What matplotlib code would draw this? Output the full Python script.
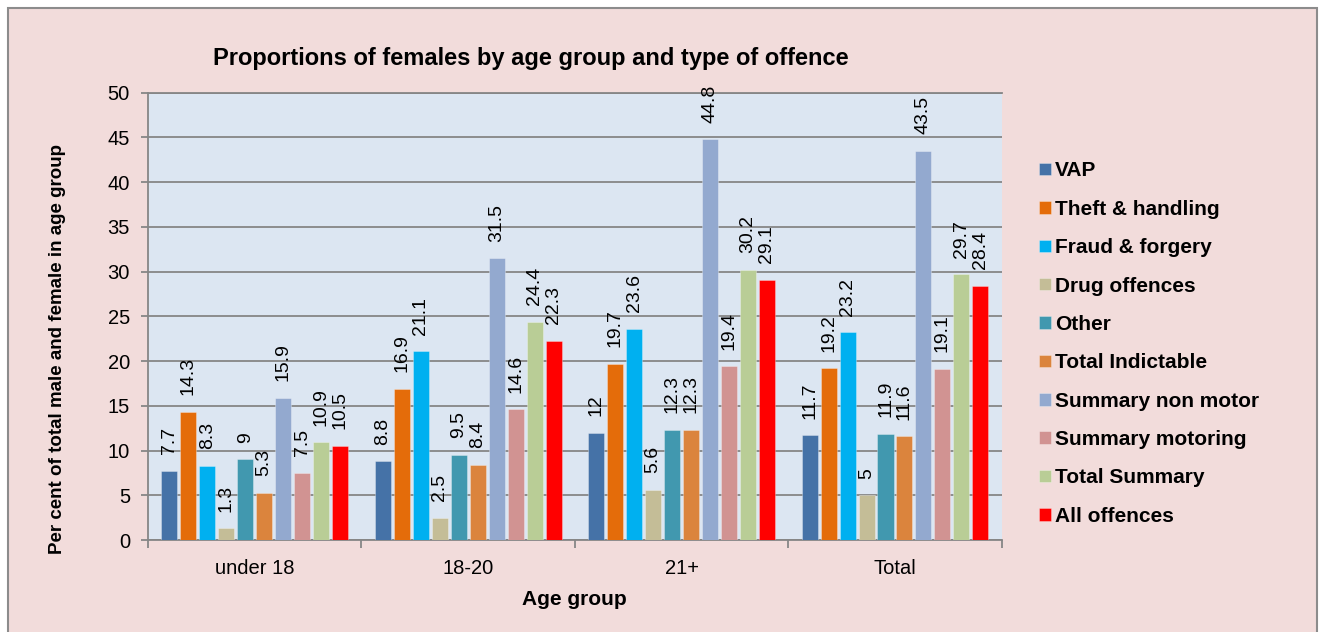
import matplotlib
matplotlib.use("Agg")
import matplotlib.pyplot as plt
from matplotlib.patches import Rectangle
import numpy as np

plt.rcParams['font.family'] = ['Liberation Sans', 'DejaVu Sans']

# dati
age_groups = ["under 18", "18-20", "21+", "Total"]
offences = ["VAP", "Theft & handling", "Fraud & forgery", "Drug offences", "Other",
            "Total Indictable", "Summary non motor", "Summary motoring",
            "Total Summary", "All offences"]

vap = [7.7, 8.8, 12, 11.7]
theft = [14.3, 16.9, 19.7, 19.2]
fraud = [8.3, 21.1, 23.6, 23.2]
drug = [1.3, 2.5, 5.6, 5]
other = [9, 9.5, 12.3, 11.9]
total_indictable = [5.3, 8.4, 12.3, 11.6]
summary_non_motor = [15.9, 31.5, 44.8, 43.5]
summary_motoring = [7.5, 14.6, 19.4, 19.1]
total_summary = [10.9, 24.4, 30.2, 29.7]
all_offences = [10.5, 22.3, 29.1, 28.4]

series = [vap, theft, fraud, drug, other, total_indictable,
          summary_non_motor, summary_motoring, total_summary, all_offences]

colors = ["#4572A7", "#E46C0A", "#00B0F0", "#C4BD97", "#4198AF",
          "#DB843D", "#93A9CF", "#D19392", "#B9CD96", "#FF0000"]

grid_col = "#868686"

fig = plt.figure(figsize=(13.21, 6.32), dpi=100)
fig.patch.set_facecolor("white")

# cornice rosa
fig.patches.append(Rectangle((8 / 1321, -0.02), 1308.5 / 1321, 1.02 - 8 / 632,
                             transform=fig.transFigure, facecolor="#F2DCDB",
                             edgecolor="#8C8C8C", linewidth=1.5, zorder=-10))

ax = fig.add_axes([148 / 1321, 92 / 632, 853.7 / 1321, 447.3 / 632])
ax.set_facecolor("#DCE6F2")

x = np.arange(len(age_groups))
pitch = 0.0889
width = 0.075
for j, (vals, col, name) in enumerate(zip(series, colors, offences)):
    pos = x + (j - 4.5) * pitch
    bars = ax.bar(pos, vals, width=width, color=col, label=name, zorder=3,
                  edgecolor=(1, 1, 1, 0.35), linewidth=0.6)
    for b, v in zip(bars, vals):
        ax.annotate(f"{v:g}", (b.get_x() + b.get_width() / 2, v),
                    xytext=(0, 12), textcoords="offset points",
                    rotation=90, ha="center", va="bottom", fontsize=14, zorder=4)

ax.set_ylim(0, 50)
ax.set_xlim(-0.5, 3.5)
ax.set_yticks(np.arange(0, 51, 5))
ax.yaxis.grid(True, color=grid_col, linewidth=1.3, zorder=0)
ax.set_axisbelow(True)

ax.set_xticks(np.arange(-0.5, 3.6, 1))
ax.set_xticklabels([])
ax.set_xticks(x, minor=True)
ax.set_xticklabels(age_groups, minor=True)
ax.tick_params(axis="x", which="major", length=6, color=grid_col, width=1.3)
ax.tick_params(axis="x", which="minor", length=0, labelsize=14.5, pad=14)
ax.tick_params(axis="y", length=5, color=grid_col, width=1.3, labelsize=14.5, pad=8)

for side in ["left", "bottom", "top"]:
    ax.spines[side].set_color(grid_col)
    ax.spines[side].set_linewidth(1.3)
ax.spines["right"].set_visible(False)

ax.set_xlabel("Age group", fontsize=15, fontweight="bold", labelpad=8)
ax.set_ylabel("Per cent of total male and female in age group", fontsize=13.5,
              fontweight="bold")
ax.yaxis.set_label_coords(-0.096, 0.427)
ax.set_title("Proportions of females by age group and type of offence",
             fontsize=17, fontweight="bold", pad=20, x=0.448)

leg = ax.legend(loc="center left", bbox_to_anchor=(1.022, 0.439), frameon=False,
                prop={"size": 15, "weight": "bold"}, handlelength=0.55,
                handleheight=0.55, handletextpad=0.22, labelspacing=0.93)

fig.savefig("out.png", dpi=100)
